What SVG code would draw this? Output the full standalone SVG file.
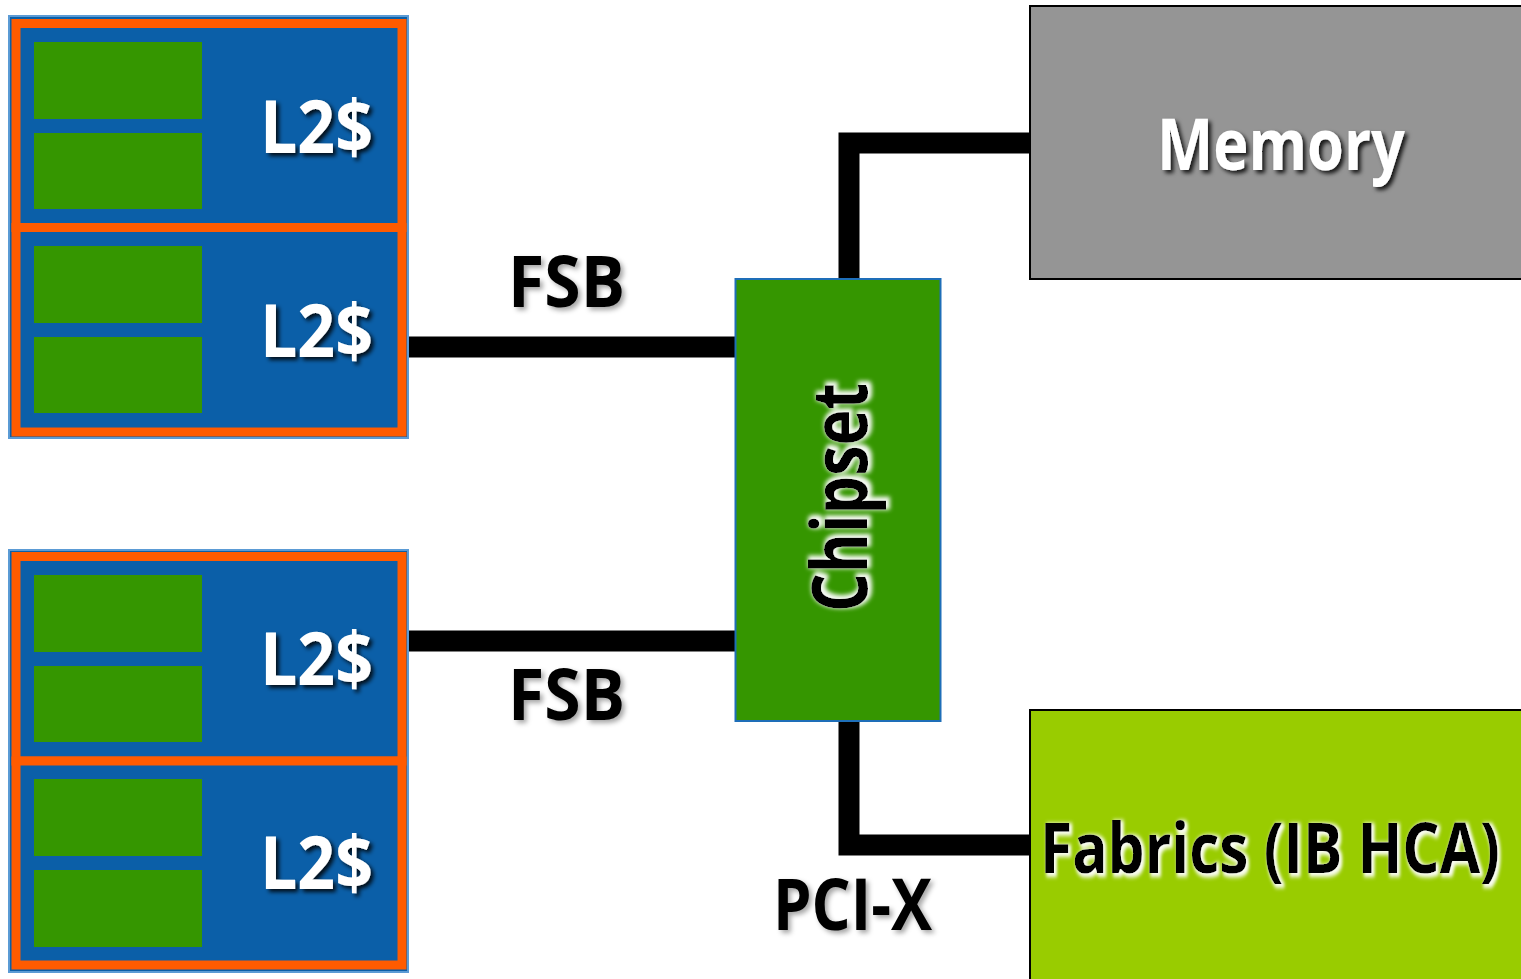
<svg xmlns="http://www.w3.org/2000/svg" width="1521" height="979" viewBox="0 0 1521 979">
  <defs>
    <filter id="shDark" x="-20%" y="-30%" width="140%" height="160%">
      <feDropShadow dx="3" dy="3" stdDeviation="2" flood-color="#000" flood-opacity="0.85"/>
    </filter>
    <filter id="shGrey" x="-20%" y="-30%" width="140%" height="160%">
      <feDropShadow dx="3" dy="3" stdDeviation="2.5" flood-color="#000" flood-opacity="0.35"/>
    </filter>
    <filter id="glow" x="-20%" y="-30%" width="140%" height="160%">
      <feMorphology in="SourceAlpha" operator="dilate" radius="1.5" result="d"/>
      <feGaussianBlur in="d" stdDeviation="2" result="b"/>
      <feFlood flood-color="#fff" flood-opacity="0.95"/>
      <feComposite in2="b" operator="in" result="g"/>
      <feOffset in="g" dx="2" dy="2" result="go"/>
      <feMerge><feMergeNode in="go"/><feMergeNode in="SourceGraphic"/></feMerge>
    </filter>
    <filter id="glowTight" x="-1%" y="-20%" width="102%" height="140%">
      <feMorphology in="SourceAlpha" operator="dilate" radius="1.5" result="d"/>
      <feGaussianBlur in="d" stdDeviation="2" result="b"/>
      <feFlood flood-color="#fff" flood-opacity="0.95"/>
      <feComposite in2="b" operator="in" result="g"/>
      <feOffset in="g" dx="2" dy="2" result="go"/>
      <feMerge><feMergeNode in="go"/><feMergeNode in="SourceGraphic"/></feMerge>
    </filter>
  </defs>
  <style>
    .lbl { font-family: "Open Sans", "Liberation Sans", sans-serif; font-weight: bold; }
    .white { fill: #ffffff; }
    .black { fill: #000000; }
    .cpu { fill: #0B5FA8; stroke: #5B9BD5; stroke-width: 2; }
    .cell { fill: #0B5FA8; stroke: #FF5B00; stroke-width: 9; }
    .core { fill: #359600; }
    .wire { fill: none; stroke: #000; stroke-width: 21; stroke-linejoin: miter; stroke-linecap: butt; }
  </style>
  <rect width="1521" height="979" fill="#ffffff"/>

  <g id="connectors">
    <line class="wire" x1="408" y1="347" x2="736" y2="347"/>
    <line class="wire" x1="408" y1="641" x2="736" y2="641"/>
    <path class="wire" d="M849,279 V143 H1031"/>
    <path class="wire" d="M849,721 V845 H1031"/>
  </g>

  <g id="cpu1">
    <rect class="cpu" x="9" y="16" width="399" height="422"/>
    <rect class="cell" x="16" y="23.5" width="386" height="204"/>
    <rect class="cell" x="16" y="227.5" width="386" height="204.5"/>
    <rect class="core" x="34" y="42" width="168" height="77"/>
    <rect class="core" x="34" y="133" width="168" height="76"/>
    <rect class="core" x="34" y="246" width="168" height="77"/>
    <rect class="core" x="34" y="337" width="168" height="76"/>
    <text class="lbl white" x="260" y="153" font-size="74" textLength="113" lengthAdjust="spacingAndGlyphs" filter="url(#shDark)">L2$</text>
    <text class="lbl white" x="260" y="357" font-size="74" textLength="113" lengthAdjust="spacingAndGlyphs" filter="url(#shDark)">L2$</text>
  </g>

  <g id="cpu2">
    <rect class="cpu" x="9" y="550" width="399" height="422"/>
    <rect class="cell" x="16" y="556.5" width="386" height="204.5"/>
    <rect class="cell" x="16" y="761" width="386" height="204"/>
    <rect class="core" x="34" y="575" width="168" height="77"/>
    <rect class="core" x="34" y="666" width="168" height="76"/>
    <rect class="core" x="34" y="779" width="168" height="77"/>
    <rect class="core" x="34" y="870" width="168" height="77"/>
    <text class="lbl white" x="260" y="685" font-size="74" textLength="113" lengthAdjust="spacingAndGlyphs" filter="url(#shDark)">L2$</text>
    <text class="lbl white" x="260" y="889" font-size="74" textLength="113" lengthAdjust="spacingAndGlyphs" filter="url(#shDark)">L2$</text>
  </g>

  <g id="fsb-labels">
    <text class="lbl black" x="508" y="307" font-size="72" textLength="117" lengthAdjust="spacingAndGlyphs" filter="url(#shGrey)">FSB</text>
    <text class="lbl black" x="508" y="720" font-size="72" textLength="117" lengthAdjust="spacingAndGlyphs" filter="url(#shGrey)">FSB</text>
  </g>

  <g id="chipset">
    <rect x="735.5" y="279" width="205" height="442" fill="#359600" stroke="#1E6EB8" stroke-width="2"/>
    <text class="lbl black" transform="translate(867,612) rotate(-90)" font-size="77" textLength="229" lengthAdjust="spacingAndGlyphs" filter="url(#glow)">Chipset</text>
  </g>

  <g id="memory">
    <rect x="1030" y="6" width="500" height="273" fill="#959595" stroke="#000" stroke-width="2"/>
    <text class="lbl white" x="1157" y="170" font-size="72" textLength="248" lengthAdjust="spacingAndGlyphs" filter="url(#shDark)">Memory</text>
  </g>

  <g id="fabrics">
    <rect x="1030" y="710" width="500" height="290" fill="#99CC00" stroke="#000" stroke-width="2"/>
    <text class="lbl black" transform="translate(1040,873) scale(0.844,1)" x="0" y="0" font-size="70" textLength="545" lengthAdjust="spacingAndGlyphs" filter="url(#glowTight)">Fabrics (IB HCA)</text>
  </g>

  <g id="pcix-label">
    <text class="lbl black" x="773" y="930" font-size="72" textLength="159" lengthAdjust="spacingAndGlyphs" filter="url(#shGrey)">PCI-X</text>
  </g>
</svg>
